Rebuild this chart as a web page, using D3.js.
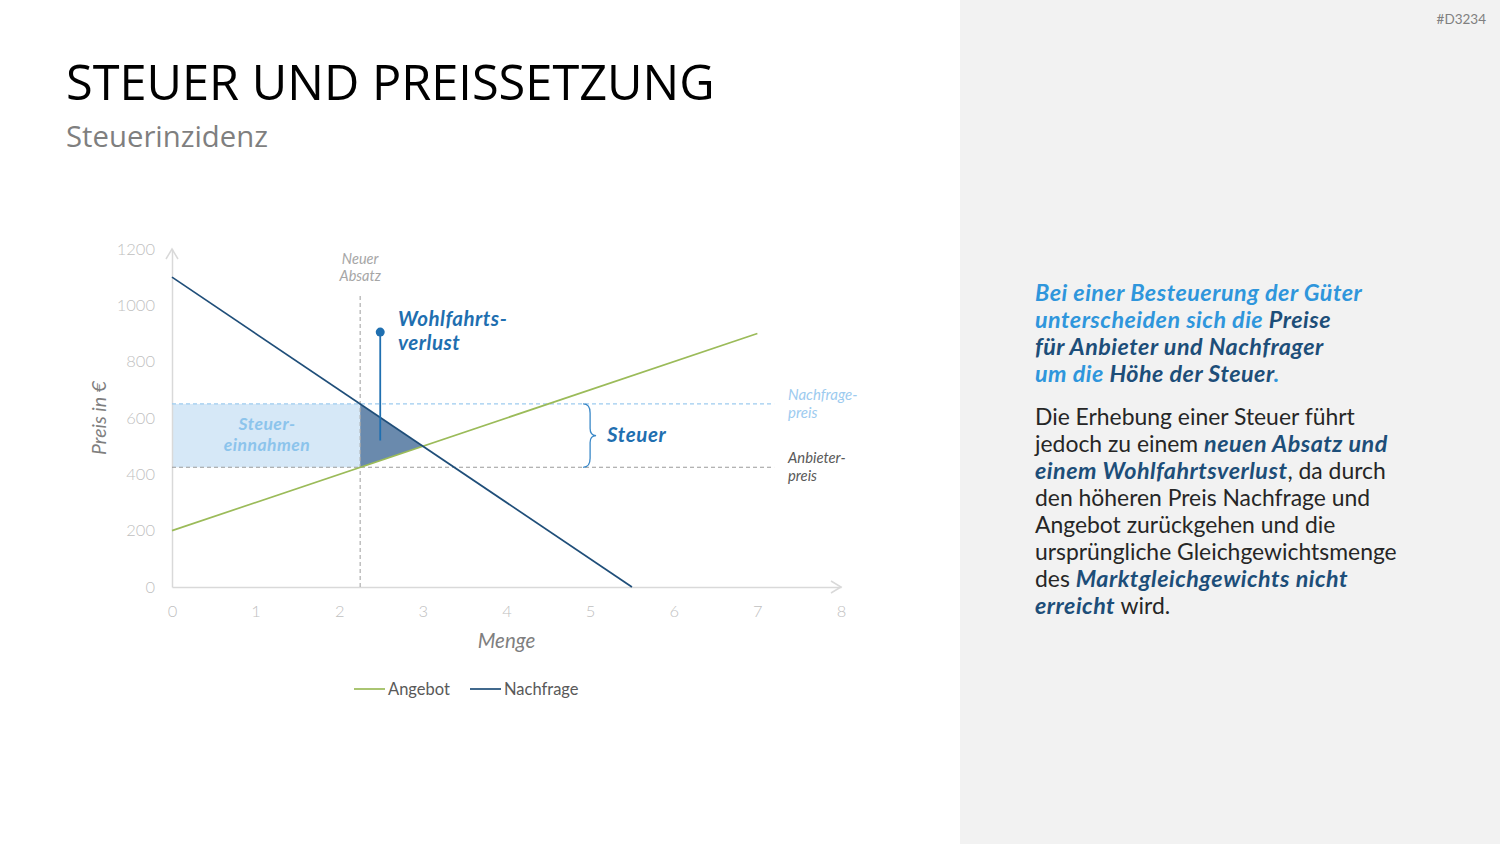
<!DOCTYPE html>
<html>
<head>
<meta charset="utf-8">
<script src="https://cdn.jsdelivr.net/npm/d3@7"></script>
<style>
  body { margin: 0; background: #fff; }
  svg { display: block; font-family: Lato, "Open Sans", sans-serif; }
</style>
</head>
<body>
<svg id="slide" width="1500" height="844"></svg>
<script>
// Chart data
var qTicks = [0, 1, 2, 3, 4, 5, 6, 7, 8];
var pTicks = [0, 200, 400, 600, 800, 1000, 1200];
var angebotQ = [0, 7];
var angebotP = [200, 900];
var nachfrageQ = [0, 5.5];
var nachfrageP = [1100, 0];
var neuerAbsatz = 2.25;
var nachfragePreis = 650;
var anbieterPreis = 425;
var gleichgewicht = [3, 500];
var preisLinienEnde = 7.2;
var absatzLinieTop = 1040;
var wohlfahrtsMarker = [2.49, 905, 520];
var steuerKlammerQ = 4.94;
var legendItems = ['Angebot', 'Nachfrage'];

// Colors
var cSupply = '#9bbb59';
var cDemand = '#1f4e79';
var cAxis = '#d9d9d9';
var cTick = '#bfbfbf';
var cLight = '#2f96dc';
var cDark = '#1d4e79';
var cMid = '#1f6fb0';

var svg = d3.select('#slide');

// Right panel
svg.append('rect').attr('x', 960).attr('y', 0).attr('width', 540).attr('height', 844).attr('fill', '#f2f2f2');
svg.append('text').attr('x', 1486).attr('y', 24).attr('text-anchor', 'end')
   .attr('font-size', 13.5).attr('fill', '#808080').text('#D3234');

// Title
svg.append('text').attr('x', 66).attr('y', 100)
   .style('font-family', '"Open Sans", sans-serif')
   .attr('font-size', 48.7).attr('fill', '#000').text('STEUER UND PREISSETZUNG');
svg.append('text').attr('x', 66).attr('y', 147)
   .style('font-family', '"Open Sans", sans-serif')
   .attr('font-size', 29.3).attr('fill', '#7f7f7f').text('Steuerinzidenz');

// Scales
var x = d3.scaleLinear().domain([0, 8]).range([172, 841]);
var y = d3.scaleLinear().domain([0, 1200]).range([587, 249]);

var chart = svg.append('g');

// Tax revenue rectangle
chart.append('rect')
     .attr('x', x(0)).attr('y', y(nachfragePreis))
     .attr('width', x(neuerAbsatz) - x(0))
     .attr('height', y(anbieterPreis) - y(nachfragePreis))
     .attr('fill', '#d6e8f7');

// Deadweight loss triangle
var triangle = [[neuerAbsatz, nachfragePreis], [neuerAbsatz, anbieterPreis], gleichgewicht];
chart.append('path')
     .attr('d', 'M' + triangle.map(function(d) { return x(d[0]) + ',' + y(d[1]); }).join('L') + 'Z')
     .attr('fill', '#6a8aad');

// Axes
var yAxis = d3.axisLeft(y).tickValues(pTicks).tickFormat(d3.format('d')).tickSize(0).tickPadding(17);
var gy = chart.append('g').attr('transform', 'translate(' + x(0) + ',0)').call(yAxis);
var xAxis = d3.axisBottom(x).tickValues(qTicks).tickFormat(d3.format('d')).tickSize(0).tickPadding(18);
var gx = chart.append('g').attr('transform', 'translate(0,' + y(0) + ')').call(xAxis);
[gx, gy].forEach(function(g) {
  g.select('.domain').attr('stroke', cAxis).attr('stroke-width', 1.5);
  g.selectAll('text').attr('fill', cTick).attr('font-size', 16.5)
   .style('font-family', 'Lato, sans-serif').style('font-weight', 300);
});

// Axis arrows
chart.append('path')
     .attr('d', 'M' + (x(0) - 6) + ',' + (y(1200) + 10) + 'L' + x(0) + ',' + y(1200) + 'L' + (x(0) + 6) + ',' + (y(1200) + 10))
     .attr('fill', 'none').attr('stroke', cAxis).attr('stroke-width', 1.5);
chart.append('path')
     .attr('d', 'M' + (x(8) - 10) + ',' + (y(0) - 6) + 'L' + x(8) + ',' + y(0) + 'L' + (x(8) - 10) + ',' + (y(0) + 6))
     .attr('fill', 'none').attr('stroke', cAxis).attr('stroke-width', 1.5);

// Dashed guide lines
chart.append('line')
     .attr('x1', x(0)).attr('x2', x(preisLinienEnde))
     .attr('y1', y(nachfragePreis)).attr('y2', y(nachfragePreis))
     .attr('stroke', '#9dcbef').attr('stroke-width', 1.3).attr('stroke-dasharray', '4,3');
chart.append('line')
     .attr('x1', x(0)).attr('x2', x(preisLinienEnde))
     .attr('y1', y(anbieterPreis)).attr('y2', y(anbieterPreis))
     .attr('stroke', '#9a9a9a').attr('stroke-width', 1.1).attr('stroke-dasharray', '4,3');
chart.append('line')
     .attr('x1', x(neuerAbsatz)).attr('x2', x(neuerAbsatz))
     .attr('y1', y(0)).attr('y2', y(absatzLinieTop))
     .attr('stroke', '#a6a6a6').attr('stroke-width', 1.1).attr('stroke-dasharray', '4,3');

// Supply and demand lines
var line = d3.line().x(function(d) { return x(d[0]); }).y(function(d) { return y(d[1]); });
chart.append('path').datum(d3.zip(angebotQ, angebotP))
     .attr('d', line).attr('fill', 'none').attr('stroke', cSupply).attr('stroke-width', 1.7);
chart.append('path').datum(d3.zip(nachfrageQ, nachfrageP))
     .attr('d', line).attr('fill', 'none').attr('stroke', cDemand).attr('stroke-width', 1.7);

// Wohlfahrtsverlust pointer
chart.append('line')
     .attr('x1', x(wohlfahrtsMarker[0])).attr('x2', x(wohlfahrtsMarker[0]))
     .attr('y1', y(wohlfahrtsMarker[1])).attr('y2', y(wohlfahrtsMarker[2]))
     .attr('stroke', cMid).attr('stroke-width', 1.8);
chart.append('circle')
     .attr('cx', x(wohlfahrtsMarker[0])).attr('cy', y(wohlfahrtsMarker[1])).attr('r', 4.5)
     .attr('fill', cMid);

// Steuer brace
var bx = x(steuerKlammerQ), bt = y(nachfragePreis), bb = y(anbieterPreis), bm = (bt + bb) / 2;
chart.append('path')
     .attr('d', 'M' + (bx - 2) + ',' + bt +
                'Q' + (bx + 5) + ',' + bt + ' ' + (bx + 5) + ',' + (bt + 9) +
                'L' + (bx + 5) + ',' + (bm - 7) +
                'Q' + (bx + 5) + ',' + bm + ' ' + (bx + 11) + ',' + bm +
                'Q' + (bx + 5) + ',' + bm + ' ' + (bx + 5) + ',' + (bm + 7) +
                'L' + (bx + 5) + ',' + (bb - 9) +
                'Q' + (bx + 5) + ',' + bb + ' ' + (bx - 2) + ',' + bb)
     .attr('fill', 'none').attr('stroke', '#3a88c8').attr('stroke-width', 1.3);

// Chart labels
function label(lines, px, py, dy, opts) {
  var t = chart.append('text')
               .attr('x', px).attr('y', py)
               .attr('text-anchor', opts.anchor || 'start')
               .attr('font-size', opts.size)
               .attr('font-style', 'italic')
               .attr('font-weight', opts.weight || 400)
               .attr('letter-spacing', opts.spacing || 0)
               .attr('fill', opts.color);
  lines.forEach(function(s, i) {
    t.append('tspan').attr('x', px).attr('dy', i === 0 ? 0 : dy).text(s);
  });
}
label(['Neuer', 'Absatz'], x(neuerAbsatz), 264, 17, {anchor: 'middle', size: 14.5, color: '#a6a6a6'});
label(['Wohlfahrts-', 'verlust'], 398, 326, 24, {size: 20.5, weight: 700, spacing: 0.5, color: cMid});
label(['Steuer-', 'einnahmen'], 267, 430, 21, {anchor: 'middle', size: 17.5, weight: 700, spacing: 0.5, color: '#8cc4ec'});
label(['Steuer'], bx + 22, 442, 0, {size: 20.5, weight: 700, spacing: 0.6, color: cMid});
label(['Nachfrage-', 'preis'], 788, 400, 18, {size: 15, color: '#9dcbef'});
label(['Anbieter-', 'preis'], 788, 463, 18, {size: 14.8, color: '#595959'});

// Axis titles
chart.append('text').attr('transform', 'translate(106,418) rotate(-90)')
     .attr('text-anchor', 'middle').attr('font-size', 19.5).attr('font-style', 'italic')
     .attr('fill', '#7f7f7f').text('Preis in €');
chart.append('text').attr('x', x(4)).attr('y', 648)
     .attr('text-anchor', 'middle').attr('font-size', 20.5).attr('font-style', 'italic')
     .attr('fill', '#7f7f7f').text('Menge');

// Legend
var legendColors = [cSupply, cDemand];
var legendX = [354, 470];
legendItems.forEach(function(name, i) {
  var g = svg.append('g').attr('transform', 'translate(' + legendX[i] + ',689)');
  g.append('line').attr('x1', 0).attr('x2', 31).attr('stroke', legendColors[i]).attr('stroke-width', 1.7);
  g.append('text').attr('x', 34).attr('y', 6).attr('font-size', 16.5).attr('fill', '#595959').text(name);
});

// Right text block
var styles = {
  lb: {color: cLight, weight: 700, italic: true},
  db: {color: cDark, weight: 700, italic: true},
  n:  {color: '#262626', weight: 400, italic: false}
};
var para1 = [
  [['lb', 'Bei einer Besteuerung der Güter']],
  [['lb', 'unterscheiden sich die '], ['db', 'Preise']],
  [['db', 'für Anbieter und Nachfrager']],
  [['lb', 'um die '], ['db', 'Höhe der Steuer'], ['lb', '.']]
];
var para2 = [
  [['n', 'Die Erhebung einer Steuer führt']],
  [['n', 'jedoch zu einem '], ['db', 'neuen Absatz und']],
  [['db', 'einem Wohlfahrtsverlust'], ['n', ', da durch']],
  [['n', 'den höheren Preis Nachfrage und']],
  [['n', 'Angebot zurückgehen und die']],
  [['n', 'ursprüngliche Gleichgewichtsmenge']],
  [['n', 'des '], ['db', 'Marktgleichgewichts nicht']],
  [['db', 'erreicht'], ['n', ' wird.']]
];
function textBlock(lines, top) {
  lines.forEach(function(parts, i) {
    var t = svg.append('text').attr('x', 1035).attr('y', top + i * 27)
               .style('white-space', 'pre');
    parts.forEach(function(p) {
      var s = styles[p[0]];
      t.append('tspan').attr('fill', s.color).attr('font-weight', s.weight)
       .attr('font-size', s.italic ? 23.3 : 22.9)
       .attr('letter-spacing', s.italic ? 0.5 : 0)
       .attr('font-style', s.italic ? 'italic' : 'normal').text(p[1]);
    });
  });
}
textBlock(para1, 301);
textBlock(para2, 425);
</script>
</body>
</html>
